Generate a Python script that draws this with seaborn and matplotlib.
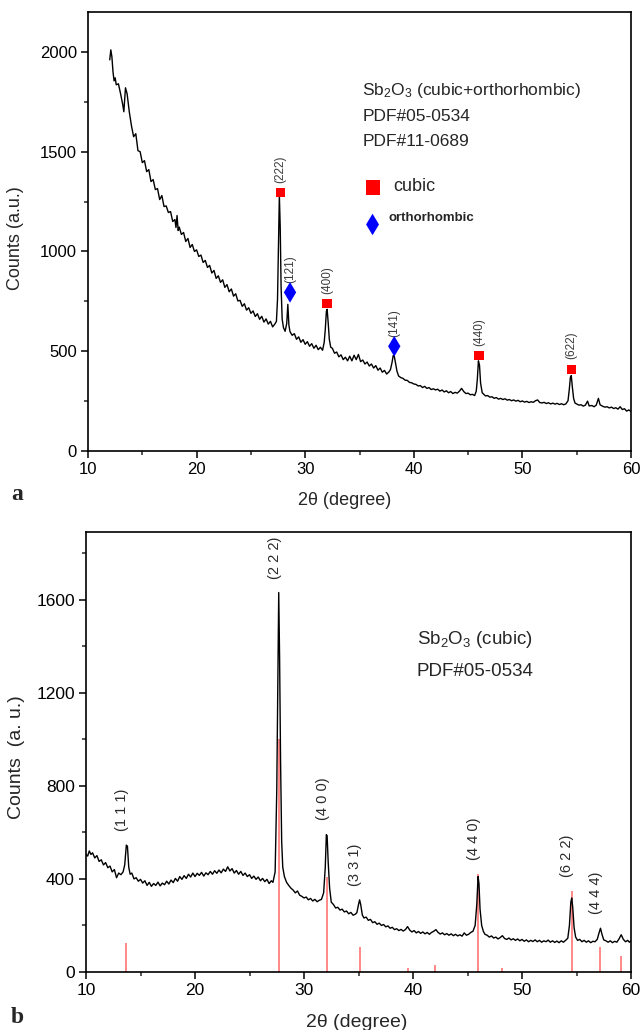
import numpy as np
import pandas as pd
import matplotlib
matplotlib.use('Agg')
import matplotlib.pyplot as plt
import seaborn as sns
from matplotlib.ticker import MultipleLocator

#################################### panel a : Sb2O3 cubic + orthorhombic
top_2theta = [
    12.0, 12.1, 12.2, 12.3, 12.4, 12.5, 12.6, 12.8, 13.0, 13.2, 13.3, 13.45, 13.6, 13.8,
    14.0, 14.2, 14.4, 14.6, 14.8, 15.0, 15.2, 15.4, 15.6, 15.8,
    16.0, 16.2, 16.4, 16.6, 16.8, 17.0, 17.2, 17.4, 17.6, 17.8,
    18.0, 18.1, 18.2, 18.3, 18.4, 18.6, 18.8, 19.0, 19.2, 19.4, 19.6, 19.8,
    20.0, 20.2, 20.4, 20.6, 20.8, 21.0, 21.2, 21.4, 21.6, 21.8,
    22.0, 22.2, 22.4, 22.6, 22.8, 23.0, 23.2, 23.4, 23.6, 23.8,
    24.0, 24.2, 24.4, 24.6, 24.8, 25.0, 25.2, 25.4, 25.6, 25.8,
    26.0, 26.2, 26.4, 26.6, 26.8, 27.0, 27.2, 27.35, 27.45, 27.55, 27.62, 27.7, 27.78, 27.88,
    28.0, 28.15, 28.3, 28.4, 28.5, 28.6, 28.8, 29.0, 29.2, 29.4, 29.6, 29.8,
    30.0, 30.2, 30.4, 30.6, 30.8, 31.0, 31.2, 31.4, 31.6, 31.75, 31.85, 31.95,
    32.02, 32.12, 32.22, 32.35, 32.5, 32.7, 32.9, 33.1, 33.3, 33.5, 33.7, 33.9,
    34.1, 34.3, 34.5, 34.7, 34.9, 35.1, 35.3, 35.5, 35.7, 35.9,
    36.1, 36.3, 36.5, 36.7, 36.9, 37.1, 37.3, 37.5, 37.7, 37.85,
    38.0, 38.1, 38.2, 38.32, 38.45, 38.6, 38.8, 39.0, 39.2, 39.4, 39.6, 39.8,
    40.0, 40.2, 40.4, 40.6, 40.8, 41.0, 41.2, 41.4, 41.6, 41.8,
    42.0, 42.2, 42.4, 42.6, 42.8, 43.0, 43.2, 43.4, 43.6, 43.8,
    44.0, 44.2, 44.4, 44.6, 44.8, 45.0, 45.2, 45.4, 45.6, 45.75, 45.85, 45.95,
    46.05, 46.15, 46.3, 46.45, 46.6, 46.8, 47.0, 47.2, 47.4, 47.6, 47.8,
    48.0, 48.2, 48.4, 48.6, 48.8, 49.0, 49.2, 49.4, 49.6, 49.8,
    50.0, 50.2, 50.4, 50.6, 50.8, 51.0, 51.2, 51.4, 51.6, 51.8,
    52.0, 52.2, 52.4, 52.6, 52.8, 53.0, 53.2, 53.4, 53.6, 53.8,
    54.0, 54.2, 54.32, 54.42, 54.5, 54.6, 54.72, 54.85, 55.0, 55.2, 55.4, 55.6, 55.8,
    56.0, 56.15, 56.4, 56.6, 56.8, 57.0, 57.15, 57.4, 57.6, 57.8,
    58.0, 58.2, 58.4, 58.6, 58.8, 59.0, 59.2, 59.4, 59.6, 59.8, 60.0,
]
top_counts = [
    1960, 2010, 1975, 1900, 1855, 1870, 1835, 1840, 1790, 1735, 1700, 1820, 1790, 1700,
    1630, 1575, 1590, 1505, 1500, 1445, 1455, 1400, 1410, 1350,
    1360, 1310, 1315, 1260, 1280, 1225, 1228, 1195, 1200, 1150,
    1160, 1120, 1180, 1105, 1122, 1085, 1095, 1050, 1065, 1020, 1035, 1000,
    1008, 975, 982, 945, 955, 920, 930, 892, 905, 865,
    878, 845, 858, 820, 834, 798, 812, 776, 788, 752,
    755, 725, 738, 706, 718, 690, 702, 674, 688, 660,
    675, 646, 662, 636, 650, 622, 636, 650, 760, 1050, 1280, 1120, 820, 660,
    618, 600, 640, 735, 630, 598, 580, 588, 560, 572, 545, 558,
    535, 548, 525, 538, 515, 530, 508, 520, 505, 545, 610, 700,
    710, 640, 560, 520, 515, 490, 496, 472, 482, 458, 470, 452,
    475, 452, 480, 458, 484, 448, 456, 436, 446, 426,
    436, 416, 428, 405, 416, 395, 404, 386, 396, 408,
    445, 478, 476, 440, 400, 376, 368, 364, 355, 354, 344, 342,
    336, 334, 326, 328, 318, 324, 314, 318, 308, 312,
    306, 310, 300, 306, 296, 302, 292, 298, 288, 294,
    290, 300, 314, 298, 288, 290, 282, 284, 278, 300, 360, 452,
    430, 340, 292, 284, 276, 278, 270, 272, 264, 268, 260,
    264, 258, 262, 255, 258, 252, 256, 250, 254, 247,
    251, 245, 249, 243, 247, 244, 252, 256, 243, 241,
    244, 238, 242, 236, 240, 235, 239, 233, 237, 232,
    236, 252, 310, 370, 378, 320, 262, 240, 236, 230, 232, 225, 230,
    250, 226, 228, 222, 230, 264, 232, 224, 220, 222,
    216, 220, 213, 217, 210, 222, 208, 212, 200, 206, 198,
]

cubic_2theta = [27.7, 32.0, 46.0, 54.5]
cubic_marker = [1295, 740, 478, 410]
cubic_hkl = ['(222)', '(400)', '(440)', '(622)']

ortho_2theta = [28.6, 38.2]
ortho_marker = [795, 525]
ortho_hkl = ['(121)', '(141)']

#################################### panel b : Sb2O3 cubic
bot_2theta = [
    10.0, 10.15, 10.3, 10.45, 10.6, 10.8, 11.0, 11.2, 11.4, 11.6, 11.8,
    12.0, 12.2, 12.4, 12.6, 12.8, 13.0, 13.2, 13.4, 13.55, 13.7, 13.8, 13.92,
    14.05, 14.2, 14.4, 14.6, 14.8, 15.0, 15.2, 15.4, 15.6, 15.8,
    16.0, 16.2, 16.4, 16.6, 16.8, 17.0, 17.2, 17.4, 17.6, 17.8,
    18.0, 18.2, 18.4, 18.6, 18.8, 19.0, 19.2, 19.4, 19.6, 19.8,
    20.0, 20.2, 20.4, 20.6, 20.8, 21.0, 21.2, 21.4, 21.6, 21.8,
    22.0, 22.2, 22.4, 22.6, 22.8, 23.0, 23.2, 23.4, 23.6, 23.8,
    24.0, 24.2, 24.4, 24.6, 24.8, 25.0, 25.2, 25.4, 25.6, 25.8,
    26.0, 26.2, 26.4, 26.6, 26.8, 27.0, 27.15, 27.35, 27.5, 27.6, 27.68, 27.76, 27.85, 27.95,
    28.05, 28.2, 28.4, 28.6, 28.8, 29.0, 29.2, 29.4, 29.6, 29.8,
    30.0, 30.2, 30.4, 30.6, 30.8, 31.0, 31.2, 31.4, 31.6, 31.8, 31.95,
    32.05, 32.12, 32.22, 32.35, 32.5, 32.7, 32.9, 33.1, 33.3, 33.5, 33.7, 33.9,
    34.1, 34.3, 34.5, 34.7, 34.85, 35.0, 35.1, 35.2, 35.35, 35.5, 35.7, 35.9,
    36.1, 36.3, 36.5, 36.7, 36.9, 37.1, 37.3, 37.5, 37.7, 37.9,
    38.1, 38.3, 38.5, 38.7, 38.9, 39.1, 39.3, 39.5, 39.7, 39.9,
    40.1, 40.3, 40.5, 40.7, 40.9, 41.1, 41.3, 41.5, 41.7, 41.9,
    42.1, 42.3, 42.5, 42.7, 42.9, 43.1, 43.3, 43.5, 43.7, 43.9,
    44.1, 44.3, 44.5, 44.7, 44.9, 45.1, 45.3, 45.5, 45.7, 45.85, 45.97,
    46.05, 46.15, 46.3, 46.45, 46.6, 46.8, 47.0, 47.2, 47.4, 47.6, 47.8,
    48.0, 48.2, 48.4, 48.6, 48.8, 49.0, 49.2, 49.4, 49.6, 49.8,
    50.0, 50.2, 50.4, 50.6, 50.8, 51.0, 51.2, 51.4, 51.6, 51.8,
    52.0, 52.2, 52.4, 52.6, 52.8, 53.0, 53.2, 53.4, 53.6, 53.8,
    54.0, 54.2, 54.35, 54.48, 54.56, 54.65, 54.78, 54.92, 55.1, 55.3, 55.5, 55.7, 55.9,
    56.1, 56.3, 56.5, 56.7, 56.9, 57.05, 57.2, 57.35, 57.5, 57.7, 57.9,
    58.1, 58.3, 58.5, 58.7, 58.9, 59.1, 59.3, 59.5, 59.7, 59.85, 60.0,
]
bot_counts = [
    505, 498, 520, 505, 512, 490, 500, 475, 482, 460, 470,
    448, 455, 430, 440, 405, 425, 418, 430, 460, 545, 540, 450,
    420, 425, 400, 405, 390, 398, 382, 392, 372, 385,
    368, 380, 372, 386, 370, 382, 375, 390, 378, 395,
    384, 402, 390, 410, 398, 414, 402, 420, 408, 425,
    410, 424, 415, 428, 412, 426, 418, 432, 420, 435,
    424, 438, 426, 442, 432, 452, 434, 444, 425, 436,
    420, 432, 415, 425, 410, 418, 402, 412, 398, 408,
    392, 402, 388, 398, 380, 392, 385, 430, 780, 1250, 1630, 1350, 900, 560,
    450, 410, 385, 372, 360, 352, 340, 348, 330, 325,
    318, 322, 310, 316, 305, 312, 302, 308, 312, 340, 450,
    590, 585, 470, 360, 300, 290, 275, 278, 266, 270, 258, 262,
    250, 256, 244, 248, 255, 290, 310, 290, 245, 232, 236, 222,
    226, 212, 216, 205, 210, 200, 204, 194, 198, 188,
    192, 182, 186, 178, 183, 176, 182, 195, 180, 172,
    178, 168, 174, 166, 172, 164, 170, 162, 170, 175,
    182, 170, 163, 168, 160, 165, 158, 164, 156, 162,
    155, 160, 154, 168, 158, 162, 170, 175, 200, 290, 410,
    380, 270, 200, 175, 162, 158, 150, 155, 146, 150, 142,
    148, 156, 144, 140, 146, 138, 143, 136, 142, 134,
    140, 132, 138, 130, 136, 131, 138, 130, 136, 128,
    134, 130, 137, 128, 134, 127, 133, 126, 134, 128,
    136, 145, 200, 300, 318, 280, 190, 150, 136, 140, 130, 136, 128,
    134, 126, 132, 130, 140, 165, 188, 160, 138, 134, 128,
    134, 126, 132, 128, 142, 160, 140, 130, 136, 128, 134,
]

# PDF#05-0534 reference sticks
pdf_2theta = [13.7, 27.7, 32.1, 35.1, 39.5, 42.05, 46.0, 48.2, 54.55, 57.2, 59.1]
pdf_counts = [123, 1000, 410, 108, 16, 30, 420, 16, 350, 108, 68]

bot_peak_2theta = [13.7, 27.7, 32.1, 35.1, 46.0, 54.55, 57.2]
bot_peak_counts = [545, 1630, 592, 310, 420, 350, 188]
bot_hkl = ['(1 1 1)', '(2 2 2)', '(4 0 0)', '(3 3 1)', '(4 4 0)', '(6 2 2)', '(4 4 4)']

####################################

sns.set_theme(style='ticks')
plt.rcParams['font.family'] = ['Liberation Sans', 'DejaVu Sans']
plt.rcParams['mathtext.default'] = 'regular'
plt.rcParams['axes.linewidth'] = 1.2

df_top = pd.DataFrame({'2theta': top_2theta, 'counts': top_counts})
df_bot = pd.DataFrame({'2theta': bot_2theta, 'counts': bot_counts})

fig = plt.figure(figsize=(6.41, 10.30), dpi=100)
ax1 = fig.add_axes([0.1373, 0.5621, 0.8471, 0.4263])
ax2 = fig.add_axes([0.1342, 0.0563, 0.8502, 0.4272])


def style_axis(ax, ymax, ymajor, yminor, fs):
    ax.set_xlim(10, 60)
    ax.set_ylim(0, ymax)
    ax.xaxis.set_major_locator(MultipleLocator(10))
    ax.xaxis.set_minor_locator(MultipleLocator(5))
    ax.yaxis.set_major_locator(MultipleLocator(ymajor))
    ax.yaxis.set_minor_locator(MultipleLocator(yminor))
    ax.tick_params(which='major', direction='out', length=5, width=1.1,
                   labelsize=fs, colors='black', pad=3)
    ax.tick_params(which='minor', direction='out', length=3, width=1.1)
    for s in ax.spines.values():
        s.set_visible(True)
        s.set_color('black')
        s.set_linewidth(1.2)


# ---- panel a
sns.lineplot(data=df_top, x='2theta', y='counts', ax=ax1, color='black',
             linewidth=1.0, sort=False)
style_axis(ax1, 2200, 500, 250, 12)
sns.scatterplot(x=cubic_2theta, y=cubic_marker, ax=ax1, marker='s', s=45,
                color='red', edgecolor='none', zorder=5)
sns.scatterplot(x=ortho_2theta, y=ortho_marker, ax=ax1, marker='d', s=110,
                color='blue', edgecolor='none', zorder=5)
for xx, yy, lab in zip(cubic_2theta + ortho_2theta, cubic_marker + ortho_marker,
                       cubic_hkl + ortho_hkl):
    ax1.annotate(lab, (xx, yy), xytext=(0, 7), textcoords='offset points',
                 rotation=90, ha='center', va='bottom', fontsize=8.5, color='#3a3a3a')

ax1.text(0.505, 0.820, 'Sb$_2$O$_3$ (cubic+orthorhombic)', transform=ax1.transAxes,
         fontsize=12.5, va='center', ha='left')
ax1.text(0.505, 0.761, 'PDF#05-0534', transform=ax1.transAxes, fontsize=12.5, va='center')
ax1.text(0.505, 0.705, 'PDF#11-0689', transform=ax1.transAxes, fontsize=12.5, va='center')
ax1.scatter([0.525], [0.600], transform=ax1.transAxes, marker='s', s=110,
            color='red', edgecolor='none')
ax1.text(0.562, 0.603, 'cubic', transform=ax1.transAxes, fontsize=13, va='center')
ax1.scatter([0.524], [0.516], transform=ax1.transAxes, marker='d', s=120,
            color='blue', edgecolor='none')
ax1.text(0.553, 0.530, 'orthorhombic', transform=ax1.transAxes, fontsize=9.5,
         fontweight='bold', va='center')

ax1.set_xlabel('2θ (degree)', fontsize=13)
ax1.set_ylabel('Counts (a.u.)', fontsize=13)
ax1.xaxis.set_label_coords(0.472, -0.093)
ax1.yaxis.set_label_coords(-0.118, 0.484)

# ---- panel b
ax2.vlines(pdf_2theta, 0, pdf_counts, color='#ff7f7f', linewidth=1.3, zorder=1)
sns.lineplot(data=df_bot, x='2theta', y='counts', ax=ax2, color='black',
             linewidth=1.0, sort=False, zorder=2)
style_axis(ax2, 1890, 400, 200, 12.5)
for xx, yy, lab in zip(bot_peak_2theta, bot_peak_counts, bot_hkl):
    ax2.annotate(lab, (xx, yy), xytext=(-3, 10), textcoords='offset points',
                 rotation=90, ha='center', va='bottom', fontsize=10.5, color='#2a2a2a')

ax2.text(0.607, 0.755, 'Sb$_2$O$_3$ (cubic)', transform=ax2.transAxes,
         fontsize=13.5, va='center')
ax2.text(0.607, 0.682, 'PDF#05-0534', transform=ax2.transAxes, fontsize=13.5, va='center')

ax2.set_xlabel('2θ (degree)', fontsize=14)
ax2.set_ylabel('Counts  (a. u.)', fontsize=14)
ax2.xaxis.set_label_coords(0.497, -0.096)
ax2.yaxis.set_label_coords(-0.112, 0.489)

fig.text(0.018, 0.515, 'a', fontsize=17, fontweight='bold', family='Liberation Serif')
fig.text(0.016, 0.007, 'b', fontsize=17, fontweight='bold', family='Liberation Serif')

plt.savefig('out.png', dpi=100)
